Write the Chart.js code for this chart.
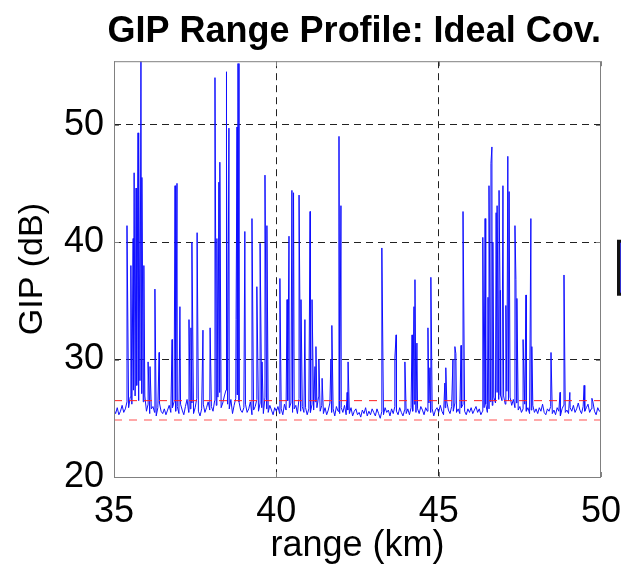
<!DOCTYPE html>
<html>
<script src="https://cdn.jsdelivr.net/npm/chart.js@4.4.0/dist/chart.umd.min.js"></script>
<style>
  body { margin: 0; background: #fff; }
  #wrap { width: 621px; height: 570px; }
</style>
<body>
<div id="wrap"><canvas id="gipChart"></canvas></div>
<script>
// noise floor, one value every 0.05 km from 35 km to 50 km
const startKm = 35;
const stepKm = 0.05;
const noiseDb = [
  25.7, 25.4, 25.9, 25.3, 25.6, 26.1, 25.5, 25.8, 26.4, 25.9, 26.8, 26.2, 27.4, 26.9, 27.8, 26.5, 28.2, 27.1, 26.4, 26.9,
  25.6, 26.2, 25.4, 25.8, 26.0, 25.5, 25.2, 25.9, 26.3, 25.6, 25.4, 25.8, 25.3, 25.7, 26.1, 25.5, 25.9, 26.4, 25.6, 26.0,
  25.4, 26.2, 25.7, 25.3, 26.0, 26.6, 25.5, 25.8, 26.3, 25.4, 25.9, 26.7, 25.6, 25.2, 25.8, 26.2, 25.5, 25.9, 26.4, 25.7,
  26.0, 25.6, 26.5, 26.1, 26.8, 27.2, 25.9, 26.3, 26.9, 27.4, 26.2, 25.8, 26.6, 25.4, 26.1, 26.7, 27.0, 26.4, 25.7, 25.5,
  25.9, 26.2, 25.5, 25.8, 26.4, 25.3, 25.7, 26.0, 26.6, 25.6, 26.3, 25.9, 25.4, 26.8, 25.8, 25.5, 26.1, 25.7, 25.3, 25.9,
  25.6, 26.0, 25.4, 25.8, 25.3, 26.2, 25.7, 26.5, 25.9, 26.3, 25.5, 25.8, 26.1, 25.4, 26.7, 25.6, 26.0, 25.5, 25.9, 25.3,
  25.8, 25.5, 26.2, 25.7, 26.4, 25.9, 26.8, 25.6, 26.1, 25.4, 25.9, 25.3, 25.7, 26.3, 25.5, 25.8, 25.2, 26.0, 25.6, 25.4,
  25.9, 25.5, 26.1, 25.3, 25.7, 25.4, 25.9, 25.2, 25.6, 25.8, 25.3, 25.5, 25.1, 25.7, 25.4, 25.9, 25.2, 25.6, 25.3, 25.8,
  25.5, 25.2, 25.8, 25.4, 25.0, 25.6, 25.3, 25.9, 25.5, 25.7, 25.2, 25.8, 25.4, 26.0, 25.6, 25.3, 25.9, 25.5, 25.2, 25.7,
  25.4, 25.8, 25.3, 25.9, 25.6, 26.2, 25.5, 25.8, 25.4, 26.0, 25.7, 25.3, 25.9, 25.6, 26.3, 25.5, 25.8, 25.2, 25.7, 25.9,
  25.5, 26.1, 25.6, 25.3, 25.9, 26.4, 25.7, 25.4, 26.0, 25.6, 26.3, 25.5, 25.8, 25.4, 25.9, 26.2, 25.6, 25.3, 25.8, 25.5,
  25.9, 25.4, 25.7, 26.0, 25.5, 25.8, 25.3, 25.6, 25.9, 26.2, 25.5, 25.8, 26.4, 26.1, 26.8, 26.3, 27.2, 26.6, 27.0, 26.5,
  26.9, 26.2, 27.3, 26.5, 26.8, 26.1, 26.6, 25.9, 26.3, 25.7, 26.0, 25.5, 25.8, 26.2, 25.6, 25.9, 25.4, 25.7, 26.1, 25.5,
  25.8, 25.4, 25.9, 25.6, 26.2, 25.5, 25.3, 25.8, 25.6, 26.0, 25.4, 25.7, 25.3, 25.9, 25.6, 25.2, 25.8, 26.1, 25.5, 25.7,
  25.4, 25.9, 25.6, 26.1, 25.5, 25.8, 26.3, 25.7, 25.4, 26.0, 25.6, 25.9, 26.2, 25.5, 25.8, 26.4, 25.6, 25.3, 25.9, 25.6,
  25.7
];

// target returns
const peakKm = [
  35.40, 35.52, 35.59, 35.62, 35.68, 35.74, 35.77, 35.83, 35.86, 35.92,
  36.05, 36.11, 36.26, 36.39, 36.79, 36.88, 36.94, 37.03, 37.31, 37.37,
  37.40, 37.56, 37.74, 37.96, 38.11, 38.17, 38.23, 38.26, 38.45, 38.48,
  38.54, 38.76, 38.79, 38.82, 39.03, 39.25, 39.40, 39.50, 39.56, 39.65,
  39.71, 40.11, 40.33, 40.39, 40.48, 40.53, 40.70, 40.76, 40.88, 41.04,
  41.10, 41.19, 41.22, 41.31, 41.41, 41.68, 41.71, 41.93, 41.99, 42.18,
  42.21, 43.25, 43.65, 43.69, 43.96, 44.18, 44.24, 44.27, 44.33, 44.67,
  44.73, 44.76, 45.19, 45.22, 45.44, 45.50, 45.53, 45.69, 45.75, 46.36,
  46.43, 46.52, 46.55, 46.61, 46.64, 46.67, 46.77, 46.80, 46.86, 46.89,
  46.98, 47.07, 47.13, 47.17, 47.35, 47.38, 47.41, 47.60, 47.69, 47.84,
  47.87, 48.46, 48.74, 48.86, 49.04, 49.48, 49.72
];
const peakDb = [
  41.4, 38.0, 40.3, 45.9, 44.6, 49.3, 48.1, 55.4, 45.5, 38.0,
  29.8, 29.4, 36.0, 30.6, 31.7, 44.8, 45.0, 34.5, 33.4, 32.7,
  40.0, 40.8, 32.5, 32.7, 54.0, 40.3, 45.1, 46.8, 54.5, 47.1,
  49.7, 33.4, 49.8, 55.2, 40.9, 42.0, 36.2, 39.9, 29.8, 45.7,
  41.4, 36.9, 35.1, 40.5, 44.4, 44.2, 44.0, 35.1, 33.4, 42.6,
  35.1, 29.4, 31.1, 30.0, 28.4, 30.0, 32.9, 49.0, 43.1, 27.2,
  29.8, 39.5, 30.1, 32.1, 29.8, 32.1, 34.5, 36.8, 31.4, 32.7,
  29.3, 37.0, 28.0, 29.3, 30.0, 31.1, 30.5, 31.2, 42.6, 40.4,
  42.0, 35.3, 44.8, 46.7, 48.1, 40.0, 42.5, 43.1, 44.4, 35.9,
  44.8, 34.6, 47.3, 44.3, 41.4, 36.8, 35.2, 31.7, 35.5, 42.0,
  31.1, 30.6, 27.2, 37.2, 27.2, 27.8, 26.7
];

const thresholdHi = 26.5;
const thresholdLo = 24.85;
const rangeMin = 35, rangeMax = 50;
const gipMin = 20, gipMax = 55.4;

const profile = noiseDb.map((v, i) => ({ x: +(startKm + i * stepKm).toFixed(2), y: v }));
peakKm.forEach((k, i) => profile.push({ x: k, y: peakDb[i] }));
profile.sort((a, b) => a.x - b.x);

const flat = (v) => [{ x: rangeMin, y: v }, { x: rangeMax, y: v }];

const FONT = "Arial, 'Liberation Sans', sans-serif";

const gridColor = (ctx) => {
  const v = ctx.tick && ctx.tick.value;
  if (v === undefined) return 'rgba(0,0,0,0)';
  const s = ctx.scale;
  return (v <= s.min || v >= s.max) ? 'rgba(0,0,0,0)' : '#222';
};

// axes box with inward ticks, matlab style
const boxPlugin = {
  id: 'box',
  afterDatasetsDraw(chart) {
    const { ctx, chartArea: a, scales } = chart;
    ctx.save();
    ctx.strokeStyle = '#808080';
    ctx.lineWidth = 1;
    ctx.strokeRect(a.left + 0.5, a.top + 0.5, a.right - a.left - 1, a.bottom - a.top);
    ctx.beginPath();
    scales.x.ticks.forEach((t) => {
      const px = Math.round(scales.x.getPixelForValue(t.value)) + 0.5;
      ctx.moveTo(px, a.bottom); ctx.lineTo(px, a.bottom - 5);
      ctx.moveTo(px, a.top); ctx.lineTo(px, a.top + 5);
    });
    scales.y.ticks.forEach((t) => {
      const py = Math.round(scales.y.getPixelForValue(t.value)) + 0.5;
      ctx.moveTo(a.left, py); ctx.lineTo(a.left + 5, py);
      ctx.moveTo(a.right, py); ctx.lineTo(a.right - 5, py);
    });
    ctx.stroke();
    // legend box, mostly cut off by the figure edge
    const lx = a.right + 16, ly = scales.y.getPixelForValue(40.2);
    ctx.fillStyle = '#111';
    ctx.fillRect(lx, ly, 12, 56);
    ctx.fillStyle = '#3030d0';
    ctx.fillRect(lx + 3, ly + 3, 9, 50);
    ctx.restore();
  }
};

new Chart(document.getElementById('gipChart'), {
  type: 'line',
  data: {
    datasets: [
      {
        label: 'threshold',
        data: flat(thresholdHi),
        borderColor: '#ff2020',
        borderWidth: 1,
        borderDash: [8, 7],
        pointRadius: 0,
      },
      {
        label: 'floor',
        data: flat(thresholdLo),
        borderColor: '#ff8c8c',
        borderWidth: 1.5,
        borderDash: [8, 7],
        pointRadius: 0,
      },
      {
        label: 'GIP',
        data: profile,
        borderColor: '#1010ff',
        borderWidth: 1,
        pointRadius: 0,
        tension: 0,
      },
    ],
  },
  options: {
    responsive: true,
    maintainAspectRatio: false,
    animation: false,
    layout: { padding: { left: 0, right: 20, top: 0, bottom: 0 } },
    plugins: {
      legend: { display: false },
      tooltip: { enabled: false },
      title: {
        display: true,
        align: 'end',
        text: 'GIP Range Profile: Ideal Cov.',
        color: '#000',
        font: { family: FONT, size: 36, weight: 'bold', lineHeight: 1.2 },
        padding: { top: 10, bottom: 8 },
      },
    },
    scales: {
      x: {
        type: 'linear',
        min: rangeMin,
        max: rangeMax,
        afterFit: (s) => { s.height = 93; s.paddingRight = 0; },
        ticks: {
          stepSize: 5,
          color: '#000',
          padding: 13,
          font: { family: FONT, size: 36 },
        },
        grid: { color: gridColor, drawTicks: false },
        border: { display: false, dash: [7, 5] },
        title: {
          display: true,
          text: 'range (km)',
          color: '#000',
          font: { family: FONT, size: 36 },
          padding: { top: 0, bottom: 2 },
        },
      },
      y: {
        min: gipMin,
        max: gipMax,
        afterFit: (s) => { s.width = 114; },
        afterBuildTicks: (s) => { s.ticks = s.ticks.filter((t) => t.value % 10 === 0); },
        ticks: {
          stepSize: 10,
          color: '#000',
          padding: 10,
          font: { family: FONT, size: 36 },
        },
        grid: { color: gridColor, drawTicks: false },
        border: { display: false, dash: [7, 5] },
        title: {
          display: true,
          text: 'GIP (dB)',
          color: '#000',
          font: { family: FONT, size: 34 },
          padding: { top: 12, bottom: 0 },
        },
      },
    },
  },
  plugins: [boxPlugin],
});
</script>
</body>
</html>
